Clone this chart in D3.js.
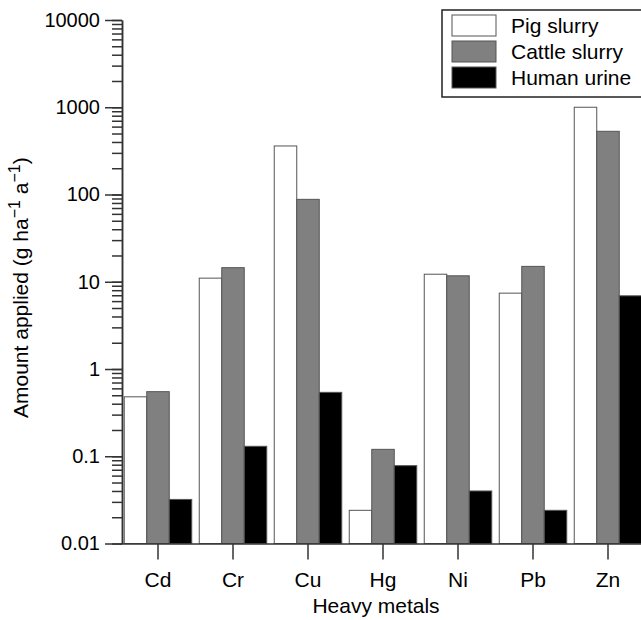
<!DOCTYPE html>
<html>
<head>
<meta charset="utf-8">
<script src="https://cdn.jsdelivr.net/npm/d3@7"></script>
<style>
    body { margin: 0; background: #fff; }
    svg { font-family: "Liberation Sans", Arial, sans-serif; }
    .axis path, .axis line { stroke: #333; stroke-width: 1.5; }
    .axis text { fill: #000; font-size: 21px; font-family: "Liberation Sans", Arial, sans-serif; }
    .yaxis text { font-size: 20px; }
</style>
</head>
<body>
<div class="chart"></div>
<script>
var metals = ["Cd", "Cr", "Cu", "Hg", "Ni", "Pb", "Zn"];
var seriesNames = ["Pig slurry", "Cattle slurry", "Human urine"];
var pigSlurry = [0.48, 11, 360, 0.024, 12.2, 7.4, 1000];
var cattleSlurry = [0.55, 14.5, 88, 0.12, 11.7, 15, 530];
var humanUrine = [0.032, 0.13, 0.54, 0.078, 0.04, 0.024, 6.9];
var yTickValues = [0.01, 0.1, 1, 10, 100, 1000, 10000];
var yTickLabels = ["0.01", "0.1", "1", "10", "100", "1000", "10000"];
var fills = ["#ffffff", "#808080", "#000000"];

function init() {
    var w = 641;
    var h = 620;
    var left = 122;
    var bottom = 543.5;

    var allSeries = [pigSlurry, cattleSlurry, humanUrine];

    var dataset = metals.map(function (m, i) {
        return {
            metal: m,
            values: seriesNames.map(function (s, j) {
                return { series: s, idx: j, value: allSeries[j][i] };
            })
        };
    });

    var xScale = d3.scaleBand()
        .domain(metals)
        .range([120.5, 645.5])
        .paddingInner(0.1)
        .paddingOuter(0.05);

    var xInner = d3.scaleBand()
        .domain(seriesNames)
        .range([0, xScale.bandwidth()]);

    var yScale = d3.scaleLog()
        .domain([0.01, 10000])
        .range([bottom, 20]);

    var svg = d3.select(".chart")
        .append("svg")
        .attr("width", w)
        .attr("height", h);

    // bars
    var groups = svg.selectAll(".group")
        .data(dataset)
        .enter()
        .append("g")
        .attr("class", "group")
        .attr("transform", function (d) { return "translate(" + xScale(d.metal) + ",0)"; });

    groups.selectAll("rect")
        .data(function (d) { return d.values; })
        .enter()
        .append("rect")
        .attr("x", function (d) { return xInner(d.series); })
        .attr("y", function (d) { return yScale(d.value); })
        .attr("width", xInner.bandwidth())
        .attr("height", function (d) { return yScale(0.01) - yScale(d.value); })
        .style("fill", function (d) { return fills[d.idx]; })
        .style("stroke", "#555")
        .style("stroke-width", 1);

    // minor ticks on y
    var yMinor = d3.axisLeft(yScale)
        .tickValues(yScale.ticks())
        .tickSize(10)
        .tickSizeOuter(0)
        .tickFormat("");

    svg.append("g")
        .attr("class", "axis")
        .attr("transform", "translate(" + left + ",0)")
        .call(yMinor);

    var yAxis = d3.axisLeft(yScale)
        .tickValues(yTickValues)
        .tickSize(17)
        .tickSizeOuter(0)
        .tickPadding(5)
        .tickFormat(function (d, i) { return yTickLabels[i]; });

    svg.append("g")
        .attr("class", "axis yaxis")
        .attr("transform", "translate(" + left + ",0)")
        .call(yAxis);

    var xAxis = d3.axisBottom(xScale)
        .tickSize(16)
        .tickSizeOuter(0)
        .tickPadding(13);

    svg.append("g")
        .attr("class", "axis")
        .attr("transform", "translate(0," + bottom + ")")
        .call(xAxis);

    // axis titles
    svg.append("text")
        .attr("x", 376)
        .attr("y", 613)
        .attr("text-anchor", "middle")
        .style("font-size", "21px")
        .text("Heavy metals");

    var yTitle = svg.append("text")
        .attr("transform", "rotate(-90)")
        .attr("x", -418)
        .attr("y", 28)
        .attr("text-anchor", "start")
        .style("font-size", "21px");
    yTitle.append("tspan").text("Amount applied (g ha");
    yTitle.append("tspan").attr("dy", -8).style("font-size", "16px").text("\u22121");
    yTitle.append("tspan").attr("dy", 8).text(" a");
    yTitle.append("tspan").attr("dy", -8).style("font-size", "16px").text("\u22121");
    yTitle.append("tspan").attr("dy", 8).text(")");

    // legend
    var legend = svg.append("g").attr("class", "legend");

    legend.append("rect")
        .attr("x", 442)
        .attr("y", 10)
        .attr("width", 220)
        .attr("height", 87)
        .style("fill", "#fff")
        .style("stroke", "#222")
        .style("stroke-width", 1.5);

    var rows = legend.selectAll(".row")
        .data(seriesNames)
        .enter()
        .append("g")
        .attr("class", "row")
        .attr("transform", function (d, i) { return "translate(452," + (15 + i * 26) + ")"; });

    rows.append("rect")
        .attr("width", 44)
        .attr("height", 21)
        .style("fill", function (d, i) { return fills[i]; })
        .style("stroke", "#555")
        .style("stroke-width", 1);

    rows.append("text")
        .attr("x", 59)
        .attr("y", 18)
        .style("font-size", "21px")
        .text(function (d) { return d; });
}

init()
</script>
</body>
</html>
